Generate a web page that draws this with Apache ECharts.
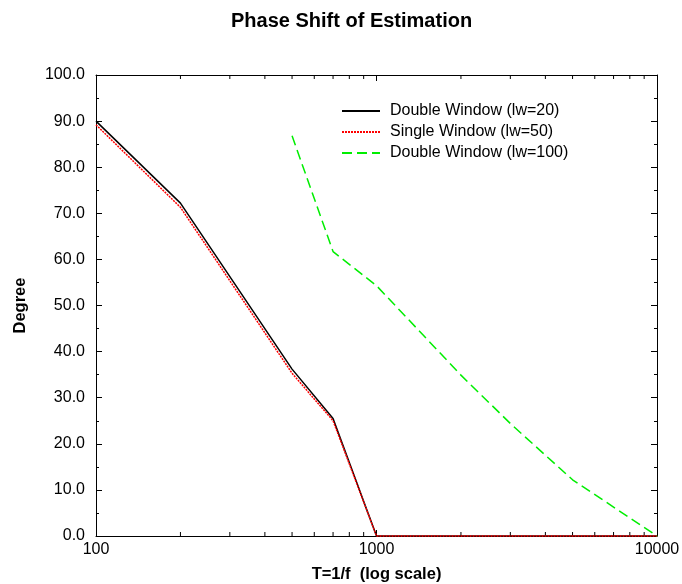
<!DOCTYPE html>
<html>
<head>
<meta charset="utf-8">
<script src="https://cdn.jsdelivr.net/npm/echarts@6/dist/echarts.min.js"></script>
<style>
  html, body { margin: 0; padding: 0; background: #fff; }
  #chart { width: 682px; height: 584px; }
</style>
</head>
<body>
<div id="chart"></div>
<script>
// Period T = 1/f for each estimation run
const periodsShort = [100, 200, 500, 700, 1000, 2000, 3000, 5000, 10000];
const doubleWindow20 = [90.0, 72.2, 36.2, 25.5, 0, 0, 0, 0, 0];
const singleWindow50 = [89.2, 71.3, 35.3, 25.0, 0, 0, 0, 0, 0];

const periodsLong = [500, 700, 1000, 2000, 3000, 5000, 10000];
const doubleWindow100 = [86.8, 61.7, 54.3, 34.9, 24.4, 12.2, 0];

// Intermediate decade ticks for the logarithmic period axis
const logMinorTicks = [200, 300, 400, 500, 600, 700, 800, 900,
                       2000, 3000, 4000, 5000, 6000, 7000, 8000, 9000];

const seriesNames = ['Double Window (lw=20)', 'Single Window (lw=50)', 'Double Window (lw=100)'];

const zip = (xs, ys) => xs.map((x, i) => [x, ys[i]]);

const FONT = '"Liberation Sans", Arial, Helvetica, sans-serif';

const frameLine = { onZero: false, lineStyle: { color: '#000', width: 1 } };
const innerTick = { show: true, inside: true, length: 6, lineStyle: { color: '#000' } };

const chart = echarts.init(document.getElementById('chart'));

chart.setOption({
  backgroundColor: '#fff',
  animation: false,
  title: {
    text: 'Phase Shift of Estimation',
    left: 226,
    top: 6,
    textStyle: { fontFamily: FONT, fontSize: 20, fontWeight: 'bold', color: '#000' }
  },
  legend: {
    orient: 'vertical',
    left: 341,
    top: 103,
    padding: 0,
    itemWidth: 38,
    itemHeight: 14,
    itemGap: 5,
    data: seriesNames,
    itemStyle: { opacity: 0 },
    textStyle: { fontFamily: FONT, fontSize: 16, color: '#000', padding: [0, 0, 0, 5] }
  },
  grid: { left: 96, right: 25, top: 75, bottom: 48, containLabel: false, outerBoundsMode: 'none' },
  xAxis: [
    {
      type: 'log',
      logBase: 10,
      min: 100,
      max: 10000,
      position: 'bottom',
      name: 'T=1/f  (log scale)',
      nameLocation: 'middle',
      nameGap: 30,
      nameTextStyle: { fontFamily: FONT, fontSize: 16.5, fontWeight: 'bold', color: '#000' },
      axisLine: frameLine,
      axisTick: innerTick,
      axisLabel: {
        fontFamily: FONT, fontSize: 16, color: '#000', margin: 6,
        formatter: v => String(Math.round(v))
      },
      splitLine: { show: false }
    },
    {
      type: 'log',
      logBase: 10,
      min: 100,
      max: 10000,
      position: 'top',
      axisLine: frameLine,
      axisTick: innerTick,
      axisLabel: { show: false },
      splitLine: { show: false }
    }
  ],
  yAxis: [
    {
      type: 'value',
      min: 0,
      max: 100,
      interval: 10,
      position: 'left',
      name: 'Degree',
      nameLocation: 'middle',
      nameGap: 67,
      nameTextStyle: { fontFamily: FONT, fontSize: 16.5, fontWeight: 'bold', color: '#000' },
      axisLine: { show: true, onZero: false, lineStyle: { color: '#000', width: 1 } },
      axisTick: innerTick,
      minorTick: { show: true, splitNumber: 2, length: 3, lineStyle: { color: '#000' } },
      axisLabel: {
        fontFamily: FONT, fontSize: 16, color: '#000', margin: 11,
        formatter: v => v.toFixed(1)
      },
      splitLine: { show: false }
    },
    {
      type: 'value',
      min: 0,
      max: 100,
      interval: 10,
      position: 'right',
      axisLine: { show: true, onZero: false, lineStyle: { color: '#000', width: 1 } },
      axisTick: innerTick,
      minorTick: { show: true, splitNumber: 2, length: 3, lineStyle: { color: '#000' } },
      axisLabel: { show: false },
      splitLine: { show: false }
    }
  ],
  series: [
    {
      name: 'ticks',
      type: 'custom',
      xAxisIndex: 0,
      yAxisIndex: 0,
      silent: true,
      clip: false,
      data: logMinorTicks.map(v => [v, 0]),
      renderItem: (params, api) => {
        const v = api.value(0);
        const b = api.coord([v, 0]);
        const t = api.coord([v, 100]);
        const style = { stroke: '#000', lineWidth: 1 };
        return {
          type: 'group',
          children: [
            { type: 'line', shape: { x1: b[0], y1: b[1], x2: b[0], y2: b[1] - 4 }, style },
            { type: 'line', shape: { x1: t[0], y1: t[1], x2: t[0], y2: t[1] + 4 }, style }
          ]
        };
      }
    },
    {
      name: seriesNames[0],
      type: 'line',
      data: zip(periodsShort, doubleWindow20),
      symbol: 'none',
      clip: false,
      color: '#000',
      lineStyle: { color: '#000', width: 1.5, type: 'solid' }
    },
    {
      name: seriesNames[1],
      type: 'line',
      data: zip(periodsShort, singleWindow50),
      symbol: 'none',
      clip: false,
      color: '#ff0000',
      lineStyle: { color: '#ff0000', width: 1.5, type: [2, 1] }
    },
    {
      name: seriesNames[2],
      type: 'line',
      data: zip(periodsLong, doubleWindow100),
      symbol: 'none',
      clip: false,
      color: '#00ff00',
      lineStyle: { color: '#00ee00', width: 1.5, type: [10, 5] }
    }
  ]
});
</script>
</body>
</html>
